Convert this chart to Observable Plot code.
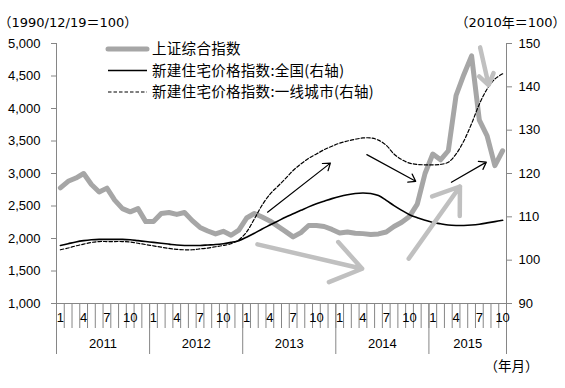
<!DOCTYPE html>
<html><head><meta charset="utf-8">
<script src="https://cdn.jsdelivr.net/npm/d3@7"></script>
<script src="https://cdn.jsdelivr.net/npm/@observablehq/plot@0.6"></script>
<style>body{margin:0;background:#fff;} #chart svg{display:block;}</style>
</head><body><div id="chart"></div>
<script>
// ---- data ----
const years = ["2011","2012","2013","2014","2015"];
const monthNames = ["1","","","4","","","7","","","10","",""];
// Shanghai Composite (monthly, left axis), Jan 2011 - Oct 2015
const sse = [2780,2880,2930,3000,2830,2715,2775,2590,2460,2410,2460,2260,
             2262,2385,2400,2370,2400,2275,2170,2115,2070,2110,2050,2130,
             2315,2385,2330,2270,2190,2110,2025,2090,2200,2200,2185,2140,
             2085,2100,2080,2075,2060,2070,2100,2185,2250,2340,2530,3000,
             3300,3210,3350,4200,4520,4810,3820,3580,3120,3350];
// New home price index: national (right axis)
const national = [103.4,103.8,104.2,104.5,104.7,104.8,104.8,104.8,104.8,104.7,104.5,104.3,
                  104.1,103.9,103.7,103.5,103.4,103.4,103.4,103.5,103.6,103.8,104.1,104.5,
                  105.3,106.2,107.2,108.1,109.0,109.9,110.7,111.5,112.3,113.0,113.6,114.2,
                  114.7,115.1,115.4,115.5,115.4,114.9,113.8,112.6,111.5,110.5,109.8,109.2,
                  108.7,108.4,108.1,108.0,108.0,108.1,108.3,108.6,108.9,109.2];
// New home price index: first-tier cities (right axis)
const tier1 = [102.4,102.8,103.3,103.7,104.1,104.3,104.3,104.3,104.3,104.2,103.9,103.6,
               103.3,103.0,102.7,102.5,102.4,102.4,102.6,102.8,103.1,103.4,103.8,104.7,
               106.5,109.5,112.7,115.2,117.0,118.8,120.7,122.2,123.5,124.5,125.5,126.3,
               127.0,127.5,127.9,128.2,128.2,127.7,126.5,124.5,123.2,122.4,122.1,122.0,
               122.0,122.1,122.6,124.5,127.5,131.5,136.0,139.5,141.8,143.0];
const leftTicks = [1000,1500,2000,2500,3000,3500,4000,4500,5000];
const rightTicks = [90,100,110,120,130,140,150];
const legendLabels = ["上证综合指数","新建住宅价格指数:全国(右轴)","新建住宅价格指数:一线城市(右轴)"];
const leftTitle = "（1990/12/19＝100）";
const rightTitle = "（2010年＝100）";
const xTitle = "（年月）";
// annotation arrows, in data units (month index, left-axis value)
const blackArrows = [
  {x1:26.7, y1:2405, x2:34.8, y2:3160},
  {x1:39.5, y1:3290, x2:45.8, y2:2880},
  {x1:50.4, y1:2865, x2:54.9, y2:3175}
];
const grayArrows = [
  {x1:25.4, y1:1910, x2:38.9, y2:1535},
  {x1:44.9, y1:1690, x2:51.5, y2:2800},
  {x1:54.1, y1:4940, x2:55.2, y2:4360}
];

// ---- chart ----
const N = sse.length;
const toL = v => 1000 + (v - 90) * 4000 / 60;
const fromL = v => Math.round(90 + (v - 1000) * 60 / 4000);
const idx = d3.range(N);
const bounds = d3.range(N + 1).map(i => i - 0.5);
const yearBounds = [-0.5, 11.5, 23.5, 35.5, 47.5, N - 0.5];
const axisColor = "#868686";
const font = "'Liberation Sans', Arial, 'Noto Sans CJK SC', sans-serif";
const titleFont = "'DejaVu Sans', 'Noto Sans CJK JP', sans-serif";

const plot = Plot.plot({
  width: 565, height: 388,
  marginLeft: 56, marginRight: 59, marginTop: 43, marginBottom: 85,
  style: {fontFamily: font, fontSize: "13px", color: "#000", background: "#fff", overflow: "visible"},
  x: {type: "linear", domain: [-0.5, N - 0.5], axis: null},
  y: {domain: [1000, 5000], axis: null},
  marks: [
    Plot.ruleX([-0.5, N - 0.5], {stroke: axisColor}),
    Plot.ruleY([1000], {stroke: axisColor}),
    Plot.axisY({anchor: "left", ticks: leftTicks, tickSize: 5, tickPadding: 11, tickFormat: d3.format(","), stroke: axisColor, fontSize: 13}),
    Plot.axisY({anchor: "right", ticks: rightTicks.map(toL), tickSize: 5, tickPadding: 7, tickFormat: v => String(fromL(v)), stroke: axisColor, fontSize: 13}),
    Plot.axisX({anchor: "bottom", ticks: bounds, tickSize: 25, tickFormat: () => "", stroke: axisColor}),
    Plot.axisX({anchor: "bottom", ticks: yearBounds, tickSize: 51, tickFormat: () => "", stroke: axisColor}),
    Plot.text(idx.filter(i => monthNames[i % 12]), {x: d => d, text: d => monthNames[d % 12], frameAnchor: "bottom", dy: 18, fontSize: 13}),
    Plot.text(years, {x: (d, i) => (i * 12 + Math.min(i * 12 + 11, N - 1)) / 2, text: d => d, frameAnchor: "bottom", dy: 44, fontSize: 13}),
    Plot.text([leftTitle], {text: d => d, frameAnchor: "top-left", dx: -58, dy: -26, textAnchor: "start", fontSize: 13, fontFamily: titleFont}),
    Plot.text([rightTitle], {text: d => d, frameAnchor: "top-right", dx: 59, dy: -26, textAnchor: "end", fontSize: 13, fontFamily: titleFont}),
    Plot.text([xTitle], {text: d => d, frameAnchor: "bottom-right", dx: 32, dy: 67, textAnchor: "end", fontSize: 13.5, fontFamily: titleFont}),
    Plot.line(sse, {x: (d, i) => i, y: d => d, stroke: "#a6a6a6", strokeWidth: 5, strokeLinejoin: "round"}),
    Plot.line(national, {x: (d, i) => i, y: d => toL(d), curve: "catmull-rom", stroke: "#000", strokeWidth: 1.6}),
    Plot.line(tier1, {x: (d, i) => i, y: d => toL(d), curve: "catmull-rom", stroke: "#000", strokeWidth: 1.2, strokeDasharray: "3.5,2"}),
    Plot.arrow(grayArrows, {x1: "x1", y1: "y1", x2: "x2", y2: "y2", stroke: "#c0c0c0", strokeWidth: 4.5, headLength: 13, headAngle: 70}),
    Plot.arrow(blackArrows, {x1: "x1", y1: "y1", x2: "x2", y2: "y2", stroke: "#000", strokeWidth: 1.2, headLength: 10, headAngle: 70})
  ]
});

// ---- legend (inside plot area, top-left) ----
const svg = d3.select(plot);
const lg = svg.append("g").attr("font-family", "'Noto Sans CJK SC', sans-serif")
  .attr("font-size", 14.5).attr("letter-spacing", "0.3px").attr("text-anchor", "start");
const legendStyles = [
  {stroke: "#a6a6a6", width: 5, dash: null, cap: "round"},
  {stroke: "#000", width: 1.6, dash: null, cap: "butt"},
  {stroke: "#000", width: 1.2, dash: "3.5,2", cap: "butt"}
];
legendLabels.forEach((label, i) => {
  const y = 49 + i * 21.5;
  const s = legendStyles[i];
  lg.append("line").attr("x1", 108).attr("x2", 147).attr("y1", y).attr("y2", y)
    .attr("stroke", s.stroke).attr("stroke-width", s.width).attr("stroke-linecap", s.cap)
    .attr("stroke-dasharray", s.dash);
  lg.append("text").attr("x", 152).attr("y", y).attr("dy", "0.35em")
    .attr("text-anchor", "start").attr("fill", "#000").text(label);
});

document.getElementById("chart").appendChild(plot);
</script></body></html>
